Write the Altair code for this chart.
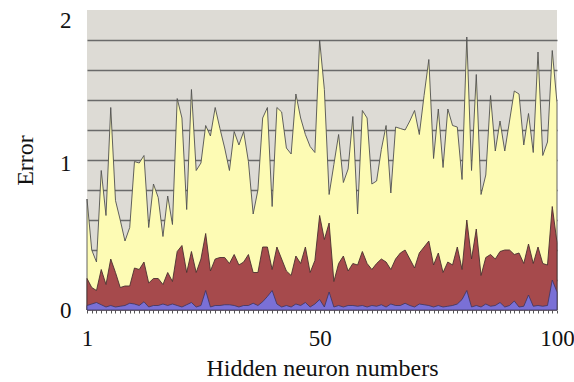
import altair as alt
import pandas as pd

neurons = list(range(1, 101))

err_total = [0.74, 0.40, 0.32, 0.93, 0.63, 1.35, 0.73, 0.60, 0.46, 0.55,
             0.99, 0.98, 1.03, 0.55, 0.84, 0.75, 0.49, 0.76, 0.57, 1.41,
             1.28, 0.67, 1.47, 0.93, 0.98, 1.23, 1.16, 1.35, 1.21, 1.08,
             0.93, 1.19, 1.10, 1.19, 0.99, 0.64, 0.80, 1.28, 1.35, 0.69,
             1.35, 1.32, 1.08, 1.04, 1.44, 1.28, 1.17, 1.09, 1.05, 1.80,
             1.47, 0.77, 0.97, 1.17, 0.85, 0.94, 1.29, 0.64, 1.33, 1.28,
             0.84, 0.86, 1.07, 1.23, 0.78, 1.22, 1.21, 1.20, 1.26, 1.33,
             1.17, 1.43, 1.67, 1.01, 1.34, 0.95, 1.34, 1.23, 1.22, 0.87,
             1.82, 0.93, 1.57, 0.77, 0.90, 1.43, 1.06, 1.26, 1.06, 1.26,
             1.46, 1.44, 1.10, 1.31, 1.05, 1.72, 1.03, 1.12, 1.73, 1.38]

err_mid = [0.21, 0.15, 0.13, 0.27, 0.17, 0.34, 0.25, 0.15, 0.16, 0.16,
           0.28, 0.27, 0.32, 0.18, 0.21, 0.21, 0.17, 0.25, 0.19, 0.39,
           0.43, 0.25, 0.39, 0.25, 0.34, 0.51, 0.26, 0.34, 0.35, 0.35,
           0.31, 0.37, 0.30, 0.32, 0.37, 0.25, 0.25, 0.42, 0.42, 0.27,
           0.42, 0.34, 0.26, 0.23, 0.36, 0.31, 0.42, 0.25, 0.33, 0.63,
           0.47, 0.58, 0.19, 0.31, 0.36, 0.26, 0.31, 0.30, 0.39, 0.31,
           0.27, 0.31, 0.34, 0.32, 0.27, 0.34, 0.38, 0.40, 0.34, 0.28,
           0.38, 0.42, 0.46, 0.30, 0.38, 0.25, 0.32, 0.30, 0.42, 0.27,
           0.60, 0.34, 0.54, 0.23, 0.35, 0.37, 0.34, 0.39, 0.40, 0.40,
           0.37, 0.38, 0.31, 0.44, 0.31, 0.42, 0.31, 0.30, 0.69, 0.45]

err_low = [0.03, 0.04, 0.05, 0.035, 0.02, 0.03, 0.02, 0.025, 0.03, 0.045,
           0.04, 0.03, 0.055, 0.02, 0.03, 0.03, 0.04, 0.03, 0.04, 0.03,
           0.02, 0.035, 0.05, 0.02, 0.03, 0.13, 0.02, 0.03, 0.03, 0.035,
           0.035, 0.03, 0.02, 0.03, 0.03, 0.045, 0.03, 0.055, 0.09, 0.13,
           0.04, 0.02, 0.03, 0.02, 0.04, 0.03, 0.05, 0.02, 0.04, 0.07,
           0.02, 0.12, 0.02, 0.03, 0.02, 0.03, 0.03, 0.025, 0.03, 0.02,
           0.03, 0.025, 0.035, 0.02, 0.04, 0.03, 0.03, 0.045, 0.03, 0.02,
           0.04, 0.035, 0.03, 0.02, 0.03, 0.02, 0.025, 0.03, 0.04, 0.07,
           0.13, 0.02, 0.03, 0.02, 0.04, 0.025, 0.03, 0.05, 0.02, 0.03,
           0.06, 0.02, 0.025, 0.10, 0.025, 0.03, 0.025, 0.03, 0.20, 0.12]

x_labels = [1, 50, 100]
y_labels = [0, 1, 2]
y_grid = [0, 0.2, 0.4, 0.6, 0.8, 1.0, 1.2, 1.4, 1.6, 1.8, 2.0]

df = pd.DataFrame({"n": neurons, "total": err_total, "mid": err_mid, "low": err_low})

FONT = "Liberation Serif"

x_label_test = " || ".join(f"datum.value == {v}" for v in x_labels)
y_label_test = " || ".join(f"datum.value == {v}" for v in y_labels)

x_axis = alt.Axis(
    values=neurons,
    labelExpr=f"({x_label_test}) ? datum.label : ''",
    title="Hidden neuron numbers",
    grid=False,
    domain=False,
    ticks=True,
    tickSize=3,
    tickColor="#555555",
    tickWidth=1,
    labelFont=FONT,
    labelFontSize=23,
    labelColor="#111111",
    labelPadding=14,
    labelFlush=False,
    labelOverlap=False,
    titleFont=FONT,
    titleFontSize=24,
    titleFontWeight="normal",
    titleColor="#111111",
    titlePadding=6,
)

y_axis = alt.Axis(
    values=y_grid,
    format=".0f",
    labelExpr=f"({y_label_test}) ? format(datum.value, 'd') : ''",
    title="Error",
    grid=True,
    gridColor="#6a6a6a",
    gridWidth=1.6,
    gridOpacity={"condition": {"test": "datum.value == 0 || datum.value == 2", "value": 0}, "value": 1},
    domain=False,
    ticks=False,
    labelFont=FONT,
    labelFontSize=23,
    labelColor="#111111",
    labelPadding=16,
    labelOffset={"condition": [{"test": "datum.value == 2", "value": 10},
                               {"test": "datum.value == 1", "value": 3}], "value": 0},
    labelOverlap=False,
    labelFlush=False,
    titleFont=FONT,
    titleFontSize=24,
    titleFontWeight="normal",
    titleColor="#111111",
    titlePadding=22,
)

x_enc = alt.X("n:Q", scale=alt.Scale(domain=[1, 100], nice=False, zero=False), axis=x_axis)
y_scale = alt.Scale(domain=[0, 2], nice=False)

base = alt.Chart(df)
yellow = base.mark_area(color="#fdfbb4", stroke="#505050", strokeWidth=0.9, opacity=1).encode(
    x=x_enc, y=alt.Y("total:Q", scale=y_scale, axis=y_axis)
)
maroon = base.mark_area(color="#a64a4c", stroke="#4a3030", strokeWidth=0.9, opacity=1).encode(
    x=x_enc, y=alt.Y("mid:Q", scale=y_scale, axis=y_axis)
)
blue = base.mark_area(color="#7a70d6", stroke="#3a3560", strokeWidth=0.8, opacity=1).encode(
    x=x_enc, y=alt.Y("low:Q", scale=y_scale, axis=y_axis)
)

chart = alt.layer(yellow, maroon, blue).properties(
    width=470,
    height=300,
    autosize=alt.AutoSizeParams(type="none"),
    padding={"left": 87, "top": 10, "right": 17, "bottom": 72},
    background="white",
).configure_view(
    fill="#dddbd5", stroke=None
)

chart.save("out.html", embed_options={"renderer": "svg", "actions": False})
